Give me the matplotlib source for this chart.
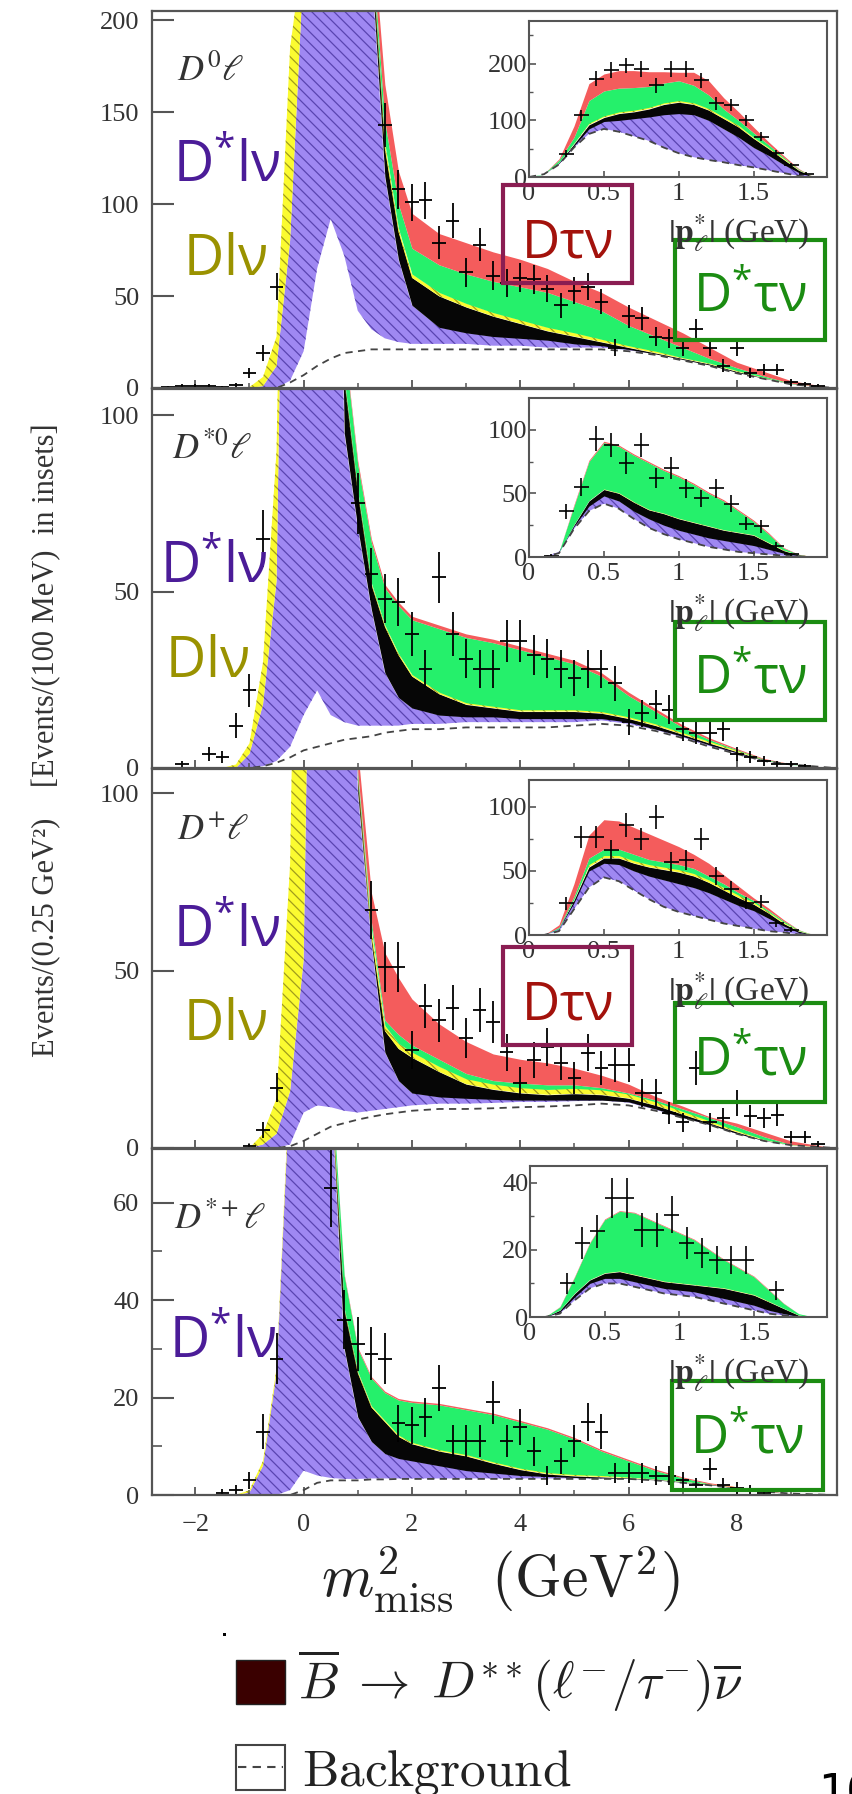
import numpy as np
import matplotlib
matplotlib.use("Agg")
import matplotlib.pyplot as plt
from matplotlib.patches import Rectangle
from matplotlib.ticker import MultipleLocator, FixedLocator

plt.rcParams['font.family'] = ['Liberation Serif', 'DejaVu Serif']
plt.rcParams['mathtext.fontset'] = 'cm'
plt.rcParams['mathtext.rm'] = 'Open Sans'
plt.rcParams['mathtext.it'] = 'Open Sans:italic'
plt.rcParams['mathtext.bf'] = 'Open Sans:bold'
plt.rcParams['hatch.linewidth'] = 0.9

# ---------------- main panels: m2_miss knots and stacked upper edges ----------------
MX = [-2.8, -1.5, -1.25, -1.0, -0.75, -0.5, -0.25, 0.0, 0.25, 0.5, 0.75, 1.0, 1.25,
      1.5, 1.75, 2.0, 2.5, 3.0, 3.5, 4.0, 4.5, 5.0, 5.5, 6.0, 6.5, 7.0, 7.5, 8.0, 8.5, 9.0, 9.8]

# D0 l
P1_BG = [0, 0, 0, 0, 0, 0, 3, 7, 12, 16, 19, 20, 21, 21, 21, 21, 21, 21, 21, 21, 21, 21, 21, 20, 18, 15, 12, 8, 5, 2, 0]
P1_GAP = [0, 0, 0, 0, 0, 0, 4, 20, 65, 92, 72, 42, 32, 27, 25, 24, 24, 24, 23, 23, 22, 22, 22, 20.5, 18.5, 15.5, 12.5, 8.5, 5.3, 2.2, 0]
P1_DSLNU = [0, 0, 0, 0, 1, 12, 80, 230, 500, 500, 500, 500, 230, 115, 70, 45, 33, 30, 28, 27, 26, 24, 23, 21, 18.5, 15.5, 12.5, 8.5, 5.3, 2.2, 0]
P1_DSS = [0, 0, 0, 0, 1, 12, 80, 230, 500, 500, 500, 500, 240, 130, 85, 60, 50, 44, 39, 35, 31, 28, 25, 22, 19, 16, 13, 9, 5.5, 2.3, 0]
P1_DLNU = [0, 0, 0, 0.5, 6, 28, 185, 240, 510, 510, 510, 510, 242, 133, 87, 62, 52, 46, 41, 37, 33, 30, 26.5, 23, 20, 16.5, 13.5, 9.5, 5.8, 2.4, 0]
P1_DSTAU = [0, 0, 0, 0.5, 6, 28, 185, 240, 510, 510, 510, 510, 245, 145, 100, 76, 67, 62, 58, 55, 52, 47, 42, 34, 28, 22, 16, 11, 6.5, 2.6, 0]
P1_DTAU = [0, 0, 0, 0.5, 6, 28, 185, 240, 510, 510, 510, 510, 255, 165, 118, 95, 84, 79, 74, 70, 65, 58, 52, 44, 37, 30, 22, 14, 9, 4, 0]

# D*0 l
P2_BG = [0, 0, 0, 0, 0.5, 1.5, 3, 5, 6, 7, 8, 8.5, 9, 10, 10.5, 11, 11, 11.5, 11.5, 11.5, 11.5, 12, 12.5, 12, 10.5, 8.5, 6, 4, 2, 1, 0]
P2_GAP = [0, 0, 0, 0, 0.5, 2, 6, 15, 22, 15, 13, 12, 12, 12, 12, 12.5, 12.5, 13, 13, 13, 13, 13, 13.5, 12.5, 10.8, 8.7, 6.2, 4.1, 2, 1, 0]
P2_DSLNU = [0, 0, 0, 4, 18, 53, 300, 300, 300, 300, 95, 68, 45, 27, 20, 17, 15, 14.5, 14.5, 14, 14, 14, 14, 13, 11, 9, 6.5, 4.3, 2.1, 1, 0]
P2_DSS = [0, 0, 0, 4, 18, 53, 300, 300, 300, 300, 110, 78, 52, 40, 32, 26, 21, 18, 17, 16, 16, 16, 15.5, 14, 12, 9.5, 7, 4.6, 2.2, 1, 0]
P2_DLNU = [0, 0, 1, 7, 30, 90, 300, 300, 300, 300, 110.5, 78.5, 52.5, 40.5, 32.5, 26.5, 21.5, 18.5, 17.5, 16.5, 16.5, 16.5, 16, 14.5, 12.5, 10, 7.5, 5, 2.3, 1, 0]
P2_DSTAU = [0, 0, 1, 7, 30, 90, 300, 300, 300, 300, 120, 86, 64, 51, 46, 42, 39.5, 37, 35.5, 33.5, 31.5, 29.5, 26, 20.5, 16, 11.5, 8, 5.2, 2.5, 1.1, 0]
P2_DTAU = [0, 0, 1, 7, 30, 90, 300, 300, 300, 300, 121, 87, 65, 52, 47, 43, 40.5, 38, 36.5, 34.5, 32.5, 30.5, 27, 21.5, 16.8, 12.2, 8.5, 5.5, 2.7, 1.2, 0]

# D+ l
P3_BG = [0, 0, 0, 0, 0, 0, 0.5, 2, 4, 6, 7, 8, 8.8, 9.5, 10, 10.5, 11, 11, 11.2, 11.5, 11.7, 12, 12.5, 12, 10.5, 8.5, 6.5, 4, 2, 0.8, 0]
P3_GAP = [0, 0, 0, 0, 0, 0, 1, 10, 12, 11.5, 10.5, 10, 10.5, 11, 11.5, 12, 12.5, 12.5, 12.7, 13, 13, 13.2, 13.4, 12.8, 10.8, 8.5, 6.5, 4, 2, 0.8, 0]
P3_DSLNU = [0, 0, 0, 0, 1, 4, 16, 53, 300, 300, 300, 100, 58, 27, 19, 15.5, 14.4, 14, 13.7, 13.5, 13.5, 13.5, 13.5, 13, 11, 8.6, 6.6, 4.1, 2.1, 0.8, 0]
P3_DSS = [0, 0, 0, 0, 1, 4, 16, 53, 300, 300, 300, 104, 60, 33, 28, 25.5, 21.5, 18, 16.5, 15.5, 15, 15.3, 15, 14, 12, 9.5, 7, 4.5, 2.2, 0.8, 0]
P3_DLNU = [0, 0, 0, 0, 4, 14, 80, 300, 300, 300, 300, 105, 62, 34.5, 29.5, 27, 23, 19.5, 18, 17, 16.5, 16.8, 16.4, 15.2, 13, 10.3, 7.6, 4.9, 2.4, 0.9, 0]
P3_DSTAU = [0, 0, 0, 0, 4, 14, 80, 300, 300, 300, 300, 106, 64, 36, 32, 29, 25, 21, 19, 18.3, 17.8, 17.8, 17, 15.5, 13.5, 11, 8.5, 6, 3.2, 1, 0]
P3_DTAU = [0, 0, 0, 0, 4, 14, 80, 300, 300, 300, 300, 112, 72, 55, 48, 42, 35, 30, 26.5, 25, 24, 22.5, 20.5, 18, 14.5, 11.8, 8.8, 7, 4.5, 2, 0]

# D*+ l
P4_BG = [0, 0, 0, 0, 0, 0, 0, 1, 2.5, 3, 3, 3, 3.2, 3.2, 3.3, 3.3, 3.3, 3.3, 3.3, 3.3, 3.3, 3.3, 3.3, 3.3, 3, 2.5, 2, 1.3, 0.7, 0.3, 0]
P4_GAP = [0, 0, 0, 0, 0, 0, 1, 5, 4, 3.5, 3.3, 3.3, 3.4, 3.4, 3.4, 3.4, 3.4, 3.4, 3.4, 3.4, 3.4, 3.4, 3.4, 3.4, 3.1, 2.6, 2.1, 1.4, 0.7, 0.3, 0]
P4_DSLNU = [0, 0, 0, 0.5, 6, 25, 85, 85, 85, 85, 30, 16, 11, 8.5, 7.5, 7, 6, 5, 4.5, 4, 3.8, 3.6, 3.5, 3.4, 3.1, 2.6, 2.1, 1.4, 0.7, 0.3, 0]
P4_DSS = [0, 0, 0, 0.5, 6, 25, 85, 85, 85, 85, 38, 25, 18, 15, 12, 10.5, 9, 8, 6.5, 5.2, 4.3, 3.9, 3.7, 3.5, 3.2, 2.7, 2.2, 1.5, 0.8, 0.3, 0]
P4_DLNU = [0, 0, 0, 1, 7, 26, 87, 87, 87, 87, 38.3, 25.3, 18.3, 15.3, 12.3, 10.8, 9.3, 8.3, 6.8, 5.5, 4.6, 4.2, 4, 3.7, 3.3, 2.8, 2.3, 1.6, 0.8, 0.3, 0]
P4_DSTAU = [0, 0, 0, 1, 7, 26, 87, 87, 87, 87, 45, 30, 24, 21, 19.5, 19, 18.5, 17.5, 16.5, 15, 13.5, 11.5, 9, 7, 5, 3.5, 2.3, 1.6, 0.8, 0.3, 0]
P4_DTAU = [0, 0, 0, 1, 7, 26, 87, 87, 87, 87, 45.3, 30.3, 24.3, 21.3, 19.8, 19.3, 18.8, 17.8, 16.8, 15.3, 13.8, 11.8, 9.3, 7.3, 5.3, 3.7, 2.5, 1.7, 0.9, 0.3, 0]

# data points (m2_miss bins of 0.25 GeV^2)
P1_DX = [-2.5, -2.25, -2.0, -1.75, -1.5, -1.25, -1.0, -0.75, -0.5, 1.5, 1.75, 2.0, 2.25, 2.5, 2.75, 3.0, 3.25,
         3.5, 3.75, 4.0, 4.25, 4.5, 4.75, 5.0, 5.25, 5.5, 5.75, 6.0, 6.25, 6.5, 6.75, 7.0, 7.25, 7.5, 7.75,
         8.0, 8.25, 8.5, 8.75, 9.0, 9.25, 9.5]
P1_DY = [0.5, 1, 1, 1, 0.5, 1.5, 8, 19, 55, 143, 108, 101, 102, 79, 91, 63, 78, 61, 57, 60, 59, 54, 45, 53,
         55, 47, 22, 39, 38, 28, 27, 22, 32, 22, 12, 22, 8, 10, 10, 3, 2, 1]
P1_DE = [0.7, 1, 1, 1, 0.7, 1.2, 2.8, 4.4, 7.4, 12, 10.4, 10, 10, 8.9, 9.5, 7.9, 8.8, 7.8, 7.5, 7.7, 7.7,
         7.3, 6.7, 7.3, 7.4, 6.9, 4.7, 6.2, 6.2, 5.3, 5.2, 4.7, 5.7, 4.7, 3.5, 4.7, 2.8, 3.2, 3.2, 1.7, 1.4, 1]

P2_DX = [-2.25, -1.75, -1.5, -1.25, -1.0, -0.75, 1.0, 1.25, 1.5, 1.75, 2.0, 2.25, 2.5, 2.75, 3.0, 3.25, 3.5,
         3.75, 4.0, 4.25, 4.5, 4.75, 5.0, 5.25, 5.5, 5.75, 6.0, 6.25, 6.5, 6.75, 7.0, 7.25, 7.5, 7.75, 8.0,
         8.25, 8.5, 8.75, 9.0, 9.25]
P2_DY = [1, 4, 3, 12, 22, 65, 75, 55, 48, 47, 38, 28, 54, 38, 31, 28, 28, 36, 36, 32, 31, 28, 25.5, 28, 28,
         24, 13, 15.5, 18, 16.5, 11, 10, 10, 11, 4, 3, 2, 1, 1, 0.5]
P2_DE = [1, 2, 1.7, 3.5, 4.7, 8, 8.7, 7.4, 6.9, 6.9, 6.2, 5.3, 7.3, 6.2, 5.6, 5.3, 5.3, 6, 6, 5.7, 5.6, 5.3,
         5, 5.3, 5.3, 4.9, 3.6, 3.9, 4.2, 4.1, 3.3, 3.2, 3.2, 3.3, 2, 1.7, 1.4, 1, 1, 0.7]

P3_DX = [-1.0, -0.75, -0.5, 1.25, 1.5, 1.75, 2.0, 2.25, 2.5, 2.75, 3.0, 3.25, 3.5, 3.75, 4.0, 4.25, 4.5, 4.75,
         5.0, 5.25, 5.5, 5.75, 6.0, 6.25, 6.5, 6.75, 7.0, 7.25, 7.5, 7.75, 8.0, 8.25, 8.5, 8.75, 9.0, 9.25, 9.5]
P3_DY = [0.5, 5, 17, 67, 51, 51, 27.6, 40, 36, 39.5, 31, 39, 35.5, 27, 18.4, 24.8, 28.5, 24, 19.7, 26.8,
         22.5, 23.4, 23.4, 15.5, 15.5, 9.9, 7.3, 22.5, 7.3, 8.5, 12.7, 9, 8.5, 9.3, 3, 3, 1]
P3_DE = [0.7, 2.2, 4.1, 8.2, 7.1, 7.1, 5.3, 6.3, 6, 6.3, 5.6, 6.2, 6, 5.2, 4.3, 5, 5.3, 4.9, 4.4, 5.2, 4.7,
         4.8, 4.8, 3.9, 3.9, 3.1, 2.7, 4.7, 2.7, 2.9, 3.6, 3, 2.9, 3, 1.7, 1.7, 1]

P4_DX = [-1.5, -1.25, -1.0, -0.75, -0.5, 0.5, 0.75, 1.0, 1.25, 1.5, 1.75, 2.0, 2.25, 2.5, 2.75, 3.0, 3.25,
         3.5, 3.75, 4.0, 4.25, 4.5, 4.75, 5.0, 5.25, 5.5, 5.75, 6.0, 6.25, 6.5, 6.75, 7.0, 7.25, 7.5, 7.75,
         8.0, 8.25, 8.5]
P4_DY = [0.5, 1, 3, 13, 28, 63, 36, 31, 29, 28, 14.7, 14.3, 16, 22, 11, 11, 11, 19, 11, 14, 9, 4, 7, 11, 15,
         13, 4.5, 4.5, 4.5, 4, 4, 3, 2, 5.3, 2, 1.5, 1, 0.5]
P4_DE = [0.7, 1, 1.7, 3.6, 5.3, 8, 6, 5.6, 5.4, 5.3, 3.8, 3.8, 4, 4.7, 3.3, 3.3, 3.3, 4.4, 3.3, 3.7, 3, 2,
         2.6, 3.3, 3.9, 3.6, 2.1, 2.1, 2.1, 2, 2, 1.7, 1.4, 2.3, 1.4, 1.2, 1, 0.7]

# ---------------- insets: |p*_l| knots (GeV) ----------------
IX = [0.0, 0.1, 0.2, 0.3, 0.4, 0.5, 0.6, 0.7, 0.8, 0.9, 1.0, 1.1, 1.2, 1.3, 1.4, 1.5, 1.6, 1.7, 1.8, 1.9]

I1_BG = [0, 5, 22, 52, 76, 85, 80, 72, 64, 52, 42, 35, 30, 26, 21, 17, 12, 7, 2, 0]
I1_DSLNU = [0, 5, 24, 55, 85, 98, 100, 103, 106, 110, 112, 110, 100, 85, 70, 52, 38, 22, 8, 0]
I1_DSS = [0, 5, 25, 58, 92, 105, 112, 115, 120, 128, 132, 128, 118, 103, 88, 68, 50, 31, 12, 0]
I1_DLNU = [0, 5, 26, 60, 95, 108, 115, 118, 123, 131, 135, 131, 121, 106, 91, 70, 52, 33, 13, 0]
I1_DSTAU = [0, 6, 30, 70, 135, 152, 157, 158, 160, 166, 170, 162, 145, 120, 100, 78, 57, 35, 14, 0]
I1_DTAU = [0, 6, 32, 90, 165, 182, 188, 188, 186, 186, 185, 185, 170, 140, 115, 88, 62, 38, 15, 0]

I2_BG = [0, 0, 3, 22, 36, 42, 38, 30, 23, 18, 14, 11, 8, 6, 4, 3, 2, 1, 0.5, 0]
I2_DSLNU = [0, 0, 4, 24, 40, 48, 44, 36, 30, 25, 21, 18, 15, 13, 11, 9, 6, 3, 1, 0]
I2_DSS = [0, 0, 4, 25, 44, 53, 50, 43, 37, 34, 30, 27, 24, 21, 19, 17, 11, 5, 1.5, 0]
I2_DLNU = [0, 0, 4, 25.5, 44.5, 53.5, 50.5, 43.5, 37.5, 34.5, 30.5, 27.5, 24.5, 21.5, 19.5, 17.5, 11.5, 5.5, 1.7, 0]
I2_DSTAU = [0, 0, 4, 40, 75, 90, 87, 80, 74, 68, 63, 57, 50, 44, 36, 28, 18, 7, 2, 0]
I2_DTAU = [0, 0, 4, 41, 76, 91, 88, 81, 75, 69, 64, 58, 51, 45, 37, 29, 19, 7.5, 2.2, 0]

I3_BG = [0, 0, 3, 20, 37, 45, 42, 35, 28, 22, 18, 15, 12, 9, 7, 5, 3, 2, 0.5, 0]
I3_DSLNU = [0, 0, 5, 25, 50, 56, 55, 50, 46, 43, 40, 37, 33, 28, 23, 19, 13, 7, 2, 0]
I3_DSS = [0, 0, 5, 27, 53, 60, 60, 56, 53, 51, 49, 46, 41, 35, 29, 24, 17, 9, 3, 0]
I3_DLNU = [0, 0, 5, 28, 55, 62, 62, 58, 55, 53, 51, 48, 43, 37, 31, 25.5, 18, 10, 3.5, 0]
I3_DSTAU = [0, 0, 6, 30, 60, 67, 67, 63, 59, 57, 55, 52, 46, 40, 33, 27, 19, 11, 4, 0]
I3_DTAU = [0, 0, 8, 40, 78, 90, 89, 84, 79, 74, 69, 63, 56, 47, 38, 29, 21, 12, 4.2, 0]

I4_BG = [0, 0, 1, 5, 8.5, 10, 10, 9, 8, 7, 6.5, 6, 5, 4, 3, 2, 1, 0.5, 0, 0]
I4_DSLNU = [0, 0, 1.5, 6, 10, 11.5, 11.5, 10.5, 9.5, 8.5, 8, 7.5, 6.5, 5.5, 4.5, 3.5, 2, 1, 0.2, 0]
I4_DSS = [0, 0, 2, 7, 11, 13, 13.5, 12.5, 11.5, 10.5, 10, 9.5, 9, 8.5, 7.5, 6.5, 4.5, 2.5, 0.5, 0]
I4_DLNU = [0, 0, 2.1, 7.2, 11.2, 13.2, 13.7, 12.7, 11.7, 10.7, 10.2, 9.7, 9.2, 8.7, 7.7, 6.7, 4.7, 2.6, 0.6, 0]
I4_DSTAU = [0, 0, 3, 12, 22, 29, 31.5, 31, 29, 27, 25, 23, 20, 17, 14.5, 12, 8, 4, 1, 0]
I4_DTAU = [0, 0, 3.1, 12.2, 22.2, 29.2, 31.7, 31.2, 29.2, 27.2, 25.2, 23.2, 20.2, 17.2, 14.7, 12.2, 8.2, 4.1, 1, 0]

I1_DX = [0.25, 0.35, 0.45, 0.55, 0.65, 0.75, 0.85, 0.95, 1.05, 1.15, 1.25, 1.35, 1.45, 1.55, 1.65, 1.75, 1.85]
I1_DY = [41, 109, 174, 189, 197, 191, 162, 191, 191, 171, 130, 127, 100, 71, 42, 21, 6]
I1_DE = [6, 10, 13, 14, 14, 14, 13, 14, 14, 13, 11, 11, 10, 8, 6.5, 4.6, 2.5]

I2_DX = [0.15, 0.25, 0.35, 0.45, 0.55, 0.65, 0.75, 0.85, 0.95, 1.05, 1.15, 1.25, 1.35, 1.45, 1.55, 1.65, 1.75]
I2_DY = [1, 36, 55, 93, 88, 74, 88, 62, 70, 54, 46, 54, 42, 26, 24, 9, 2]
I2_DE = [1, 6, 7.4, 9.6, 9.4, 8.6, 9.4, 7.9, 8.4, 7.3, 6.8, 7.3, 6.5, 5.1, 4.9, 3, 1.4]

I3_DX = [0.25, 0.35, 0.45, 0.55, 0.65, 0.75, 0.85, 0.95, 1.05, 1.15, 1.25, 1.35, 1.45, 1.55, 1.65, 1.75]
I3_DY = [24.7, 76.6, 76.6, 66, 85.7, 75, 92, 57, 58.5, 75, 46, 36, 25, 26, 9, 4]
I3_DE = [5, 8.8, 8.8, 8.1, 9.3, 8.7, 9.6, 7.5, 7.6, 8.7, 6.8, 6, 5, 5.1, 3, 2]

I4_DX = [0.25, 0.35, 0.45, 0.55, 0.65, 0.75, 0.85, 0.95, 1.05, 1.15, 1.25, 1.35, 1.45, 1.65]
I4_DY = [10, 22, 25.5, 35.5, 35.5, 26, 26, 30.5, 22, 19, 17, 17, 17, 8]
I4_DE = [3.2, 4.7, 5, 6, 6, 5.1, 5.1, 5.5, 4.7, 4.4, 4.1, 4.1, 4.1, 2.8]

# ---------------- style ----------------
PURPLE, PURPLE_H = '#9f88f2', '#5a44b0'
BLACKC = '#060606'
YELLOW, YELLOW_H = '#fbfb30', '#a09c1c'
GREEN = '#25f06b'
RED = '#f45c5c'
AXC = '#555555'
TXT = '#333333'

W, H = 853, 1794
fig = plt.figure(figsize=(W / 100, H / 100), dpi=100)


def axes_px(x0, top, x1, bottom):
    return fig.add_axes([x0 / W, 1 - bottom / H, (x1 - x0) / W, (bottom - top) / H])


def draw_stack(ax, x, bg, gap, dsl, dss, dl, dst, dt, hatch):
    ax.fill_between(x, gap, dsl, facecolor=PURPLE, edgecolor=PURPLE_H, hatch=hatch, linewidth=0)
    ax.fill_between(x, dsl, dss, color=BLACKC, linewidth=0)
    ax.fill_between(x, dss, dl, facecolor=YELLOW, edgecolor=YELLOW_H, hatch=hatch, linewidth=0)
    ax.fill_between(x, dl, dst, color=GREEN, linewidth=0)
    ax.fill_between(x, dst, dt, color=RED, linewidth=0)
    ax.plot(x, bg, color='#444444', lw=1.3, ls=(0, (4, 3)))


def style_spines(ax, lw):
    for s in ax.spines.values():
        s.set_color(AXC)
        s.set_linewidth(lw)


panels = [
    dict(px=(11, 388), ymax=205, yt=[0, 50, 100, 150, 200], ym=[],
         stack=(P1_BG, P1_GAP, P1_DSLNU, P1_DSS, P1_DLNU, P1_DSTAU, P1_DTAU),
         data=(P1_DX, P1_DY, P1_DE), name=r'$D^0\ell$', lab=(177, 80)),
    dict(px=(389, 768), ymax=107.4, yt=[0, 50, 100], ym=[],
         stack=(P2_BG, P2_GAP, P2_DSLNU, P2_DSS, P2_DLNU, P2_DSTAU, P2_DTAU),
         data=(P2_DX, P2_DY, P2_DE), name=r'$D^{*0}\ell$', lab=(172, 458)),
    dict(px=(769, 1148), ymax=106.8, yt=[0, 50, 100], ym=[],
         stack=(P3_BG, P3_GAP, P3_DSLNU, P3_DSS, P3_DLNU, P3_DSTAU, P3_DTAU),
         data=(P3_DX, P3_DY, P3_DE), name=r'$D^{+}\ell$', lab=(177, 838)),
    dict(px=(1149, 1495), ymax=71, yt=[0, 20, 40, 60], ym=[10, 30, 50],
         stack=(P4_BG, P4_GAP, P4_DSLNU, P4_DSS, P4_DLNU, P4_DSTAU, P4_DTAU),
         data=(P4_DX, P4_DY, P4_DE), name=r'$D^{*+}\ell$', lab=(174, 1228)),
]

insets = [
    dict(px=(529, 21, 827, 177), ymax=275.6, yt=[0, 100, 200], ym=[50, 150, 250],
         stack=(I1_BG, I1_DSLNU, I1_DSS, I1_DLNU, I1_DSTAU, I1_DTAU), data=(I1_DX, I1_DY, I1_DE)),
    dict(px=(529, 398, 827, 557), ymax=125, yt=[0, 50, 100], ym=[25, 75],
         stack=(I2_BG, I2_DSLNU, I2_DSS, I2_DLNU, I2_DSTAU, I2_DTAU), data=(I2_DX, I2_DY, I2_DE)),
    dict(px=(529, 780, 827, 935), ymax=121, yt=[0, 50, 100], ym=[25, 75],
         stack=(I3_BG, I3_DSLNU, I3_DSS, I3_DLNU, I3_DSTAU, I3_DTAU), data=(I3_DX, I3_DY, I3_DE)),
    dict(px=(530, 1166, 827, 1317), ymax=45, yt=[0, 20, 40], ym=[10, 30],
         stack=(I4_BG, I4_DSLNU, I4_DSS, I4_DLNU, I4_DSTAU, I4_DTAU), data=(I4_DX, I4_DY, I4_DE)),
]

for i, p in enumerate(panels):
    top, bot = p['px']
    ax = axes_px(152, top, 837, bot)
    bg, gap, dsl, dss, dl, dst, dt = p['stack']
    draw_stack(ax, MX, bg, gap, dsl, dss, dl, dst, dt, '\\\\\\')
    dx, dy, de = p['data']
    ax.errorbar(dx, dy, yerr=de, xerr=0.125, fmt='none', ecolor='black', elinewidth=1.3, capsize=0)
    ax.set_xlim(-2.8, 9.85)
    ax.set_ylim(0, p['ymax'])
    ax.xaxis.set_major_locator(MultipleLocator(2))
    ax.xaxis.set_minor_locator(MultipleLocator(1))
    ax.yaxis.set_major_locator(FixedLocator(p['yt']))
    ax.yaxis.set_minor_locator(FixedLocator(p['ym']))
    ax.tick_params(axis='both', which='both', direction='in', colors=AXC, labelcolor=TXT, labelsize=19)
    ax.tick_params(axis='y', which='major', length=16, width=1.5, pad=9)
    ax.tick_params(axis='y', which='minor', length=7, width=1.2)
    ax.tick_params(axis='x', which='major', length=6, width=1.3, pad=14)
    ax.tick_params(axis='x', which='minor', length=3.5, width=1.1)
    ax.tick_params(labelbottom=(i == 3))
    style_spines(ax, 1.6)
    fig.text(p['lab'][0] / W, 1 - p['lab'][1] / H, p['name'], fontsize=26, color=TXT,
             math_fontfamily='stix', ha='left', va='baseline')

for p in insets:
    x0, top, x1, bot = p['px']
    ax = axes_px(x0, top, x1, bot)
    bg, dsl, dss, dl, dst, dt = p['stack']
    draw_stack(ax, IX, bg, bg, dsl, dss, dl, dst, dt, '\\\\\\')
    dx, dy, de = p['data']
    ax.errorbar(dx, dy, yerr=de, xerr=0.05, fmt='none', ecolor='black', elinewidth=1.2, capsize=0)
    ax.set_xlim(0, 1.99)
    ax.set_ylim(0, p['ymax'])
    ax.set_xticks([0, 0.5, 1, 1.5])
    ax.set_xticklabels(['0', '0.5', '1', '1.5'])
    ax.yaxis.set_major_locator(FixedLocator(p['yt']))
    ax.yaxis.set_minor_locator(FixedLocator(p['ym']))
    ax.tick_params(axis='both', which='both', direction='in', colors=AXC, labelcolor=TXT, labelsize=19)
    ax.tick_params(axis='y', which='major', length=5, width=1.2, pad=1)
    ax.tick_params(axis='y', which='minor', length=3, width=1.0)
    ax.tick_params(axis='x', which='major', length=4, width=1.2, pad=4)
    style_spines(ax, 1.5)
    fig.text(810 / W, 1 - (bot + 56) / H, r'$|\mathbf{p}^{*}_{\ell}|$ (GeV)', fontsize=24, color=TXT,
             math_fontfamily='stix', ha='right', va='center')

# y axis title
fig.text(47 / W, 1 - 740 / H, 'Events/(0.25 GeV\u00b2)    [Events/(100 MeV)  in insets]', rotation=90,
         fontsize=22, color=TXT, ha='center', va='center')

# x axis title
fig.text(500 / W, 1 - 1597 / H, r'$m^2_{\rm miss}\ \ ({\rm GeV}^2)$', fontsize=43, color='#222222',
         ha='center', va='baseline')


# coloured annotations
def note(x, y, s, color, size=40):
    fig.text(x / W, 1 - y / H, s, fontsize=size, color=color, math_fontfamily='custom',
             ha='left', va='baseline')


def tag(x0, y0, x1, y1, s, tcolor, ecolor):
    fig.add_artist(Rectangle((x0 / W, 1 - y1 / H), (x1 - x0) / W, (y1 - y0) / H,
                             transform=fig.transFigure, fill=False, edgecolor=ecolor, linewidth=3))
    note(x0 + 18, y0 + 72, s, tcolor, 38)


DSL = r'$\mathrm{D^{*}l\nu}$'
DL = r'$\mathrm{Dl\nu}$'
DT = r'$\mathrm{D\tau\nu}$'
DST = r'$\mathrm{D^{*}\tau\nu}$'
C_DSL, C_DL = '#4b1c98', '#9a9200'
C_DT, C_DT_BOX = '#a3120c', '#8a1d52'
C_DST = '#1b8c12'

for (x, y) in [(173, 182), (160, 583), (173, 947), (169, 1358)]:
    note(x, y, DSL, C_DSL)
for (x, y) in [(183, 275), (165, 677), (183, 1040)]:
    note(x, y, DL, C_DL)
for (x0, y0, x1, y1) in [(503, 185, 632, 283), (503, 947, 632, 1045)]:
    tag(x0, y0, x1, y1, DT, C_DT, C_DT_BOX)
for (x0, y0, x1, y1) in [(675, 240, 825, 340), (675, 622, 825, 720), (675, 1003, 825, 1102), (672, 1381, 823, 1490)]:
    tag(x0, y0, x1, y1, DST, C_DST, C_DST)

# legend rows
fig.add_artist(Rectangle((236 / W, 1 - 1704 / H), 49 / W, 44 / H, transform=fig.transFigure,
                         facecolor='#3a0000', edgecolor='#222222', linewidth=1))
fig.text(298 / W, 1 - 1699 / H, r'$\overline{B}\;\rightarrow\;D^{**}(\ell^{-}/\tau^{-})\overline{\nu}$',
         fontsize=37, color='#222222', ha='left', va='baseline')
fig.add_artist(Rectangle((236 / W, 1 - 1790 / H), 49 / W, 45 / H, transform=fig.transFigure,
                         facecolor='white', edgecolor='#444444', linewidth=1.5))
fig.add_artist(plt.Line2D([238 / W, 283 / W], [1 - 1767 / H, 1 - 1767 / H], transform=fig.transFigure,
                          color='#444444', lw=1.5, ls=(0, (4, 3))))
fig.text(302 / W, 1 - 1785 / H, r'$\mathrm{Background}$', fontsize=37, color='#222222',
         ha='left', va='baseline')
fig.add_artist(Rectangle((223 / W, 1 - 1636 / H), 3 / W, 3 / H, transform=fig.transFigure,
                         facecolor='black', edgecolor='none'))
fig.text(818 / W, 1 - 1772 / H, '10', fontsize=32, color='black', family='DejaVu Sans',
         ha='left', va='top')

fig.savefig('out.png', dpi=100)
